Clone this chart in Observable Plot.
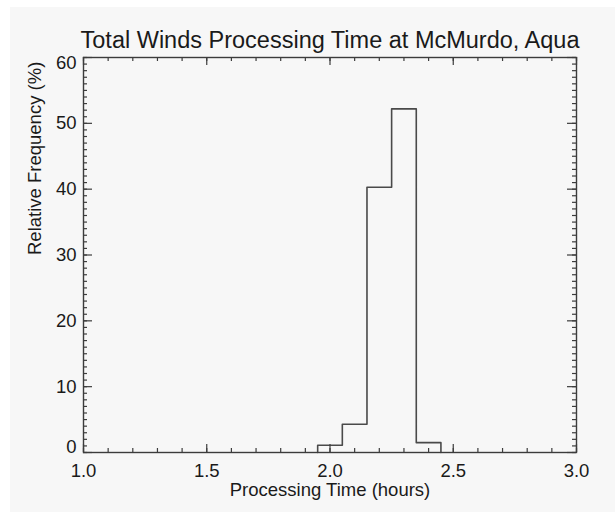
<!DOCTYPE html>
<html>
<head>
<meta charset="utf-8">
<script src="https://cdn.jsdelivr.net/npm/d3@7"></script>
<script src="https://cdn.jsdelivr.net/npm/@observablehq/plot@0.6"></script>
<style>
  html, body { margin: 0; padding: 0; background: #ffffff; }
  #wrap { position: relative; width: 615px; height: 512px; overflow: hidden; }
  #bg { position: absolute; left: 10px; top: 7px; right: 0; bottom: 0; background: #f7f7f7; }
  #chart { position: absolute; left: 0; top: 0; }
</style>
</head>
<body>
<div id="wrap"><div id="bg"></div><div id="chart"></div></div>
<script>
// ---- data ----
const title = "Total Winds Processing Time at McMurdo, Aqua";
const xTitle = "Processing Time (hours)";
const yTitle = "Relative Frequency (%)";
const binCenters = [2.0, 2.1, 2.2, 2.3, 2.4];
const frequency = [1.1, 4.3, 40.3, 52.2, 1.5];
const binWidth = 0.1;
const xMajor = [1.0, 1.5, 2.0, 2.5, 3.0];
const xTickLabels = ["1.0", "1.5", "2.0", "2.5", "3.0"];
const yMajor = [0, 10, 20, 30, 40, 50, 60];
const yTickLabels = ["0", "10", "20", "30", "40", "50", "60"];
const xDomain = [1.0, 3.0];
const yDomain = [0, 60];
const xMinorStep = 0.1;
const yMinorStep = 1;

// step outline points built from bins
const pts = [{x: binCenters[0] - binWidth / 2, y: 0}];
binCenters.forEach((c, i) => pts.push({x: c - binWidth / 2, y: frequency[i]}));
pts.push({x: binCenters[binCenters.length - 1] + binWidth / 2, y: 0});

const xMinor = d3.range(0, Math.round((xDomain[1] - xDomain[0]) / xMinorStep) + 1)
  .map(i => +(xDomain[0] + i * xMinorStep).toFixed(4));
const yMinor = d3.range(0, Math.round((yDomain[1] - yDomain[0]) / yMinorStep) + 1)
  .map(i => yDomain[0] + i * yMinorStep);

const W = 615, H = 512;
const mL = 83, mR = 39, mT = 57, mB = 60;
const fw = W - mL - mR, fh = H - mT - mB;
const axisColor = "#3c3c3c";
const textColor = "#1a1a1a";
const font = "'Liberation Sans', Arial, Helvetica, sans-serif";
const last = yMajor.length - 1;

const chart = Plot.plot({
  width: W, height: H,
  marginLeft: mL, marginRight: mR, marginTop: mT, marginBottom: mB,
  x: {domain: xDomain, axis: null},
  y: {domain: yDomain, axis: null},
  style: {background: "transparent", fontFamily: font, fontSize: "18.5px", color: textColor},
  marks: [
    Plot.line(pts, {x: "x", y: "y", curve: "step-after", stroke: "#4a4a4a", strokeWidth: 1.6}),
    // x ticks (bottom & top), inward
    Plot.tickX(xMinor, {x: d => d, insetTop: fh - 4, stroke: axisColor, strokeWidth: 1.2}),
    Plot.tickX(xMajor, {x: d => d, insetTop: fh - 8, stroke: axisColor, strokeWidth: 1.2}),
    Plot.tickX(xMinor, {x: d => d, insetBottom: fh - 4, stroke: axisColor, strokeWidth: 1.2}),
    Plot.tickX(xMajor, {x: d => d, insetBottom: fh - 8, stroke: axisColor, strokeWidth: 1.2}),
    // y ticks (left & right), inward
    Plot.tickY(yMinor, {y: d => d, insetRight: fw - 4, stroke: axisColor, strokeWidth: 1.2}),
    Plot.tickY(yMajor, {y: d => d, insetRight: fw - 9, stroke: axisColor, strokeWidth: 1.2}),
    Plot.tickY(yMinor, {y: d => d, insetLeft: fw - 4, stroke: axisColor, strokeWidth: 1.2}),
    Plot.tickY(yMajor, {y: d => d, insetLeft: fw - 9, stroke: axisColor, strokeWidth: 1.2}),
    Plot.frame({stroke: axisColor, strokeWidth: 1.4}),
    // tick labels
    Plot.text(xMajor, {x: d => d, text: (d, i) => xTickLabels[i], frameAnchor: "bottom", lineAnchor: "top", dy: 11, fill: textColor}),
    Plot.text(yMajor, {y: d => d, text: (d, i) => yTickLabels[i], filter: (d, i) => i > 0 && i < last, frameAnchor: "left", textAnchor: "end", dx: -7, fill: textColor}),
    Plot.text(yMajor, {y: d => d, text: (d, i) => yTickLabels[i], filter: (d, i) => i === 0, frameAnchor: "left", textAnchor: "end", dx: -7, dy: -5, fill: textColor}),
    Plot.text(yMajor, {y: d => d, text: (d, i) => yTickLabels[i], filter: (d, i) => i === last, frameAnchor: "left", textAnchor: "end", dx: -7, dy: 6, fill: textColor}),
    // titles
    Plot.text([xTitle], {text: d => d, frameAnchor: "bottom", lineAnchor: "middle", dy: 38, fill: textColor}),
    Plot.text([yTitle], {text: d => d, frameAnchor: "left", lineAnchor: "middle", rotate: -90, dx: -48, fill: textColor}),
    Plot.text([title], {text: d => d, frameAnchor: "top", lineAnchor: "middle", dy: -17, fontSize: 23.5, fill: textColor})
  ]
});
document.getElementById("chart").appendChild(chart);
</script>
</body>
</html>
